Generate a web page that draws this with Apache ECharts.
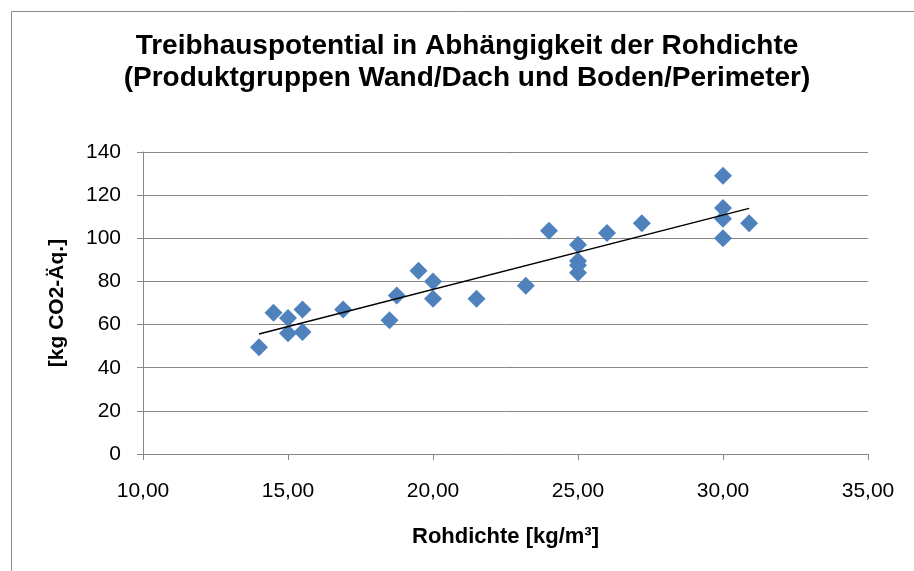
<!DOCTYPE html>
<html>
<head>
<meta charset="utf-8">
<script src="https://cdn.jsdelivr.net/npm/echarts@6/dist/echarts.min.js"></script>
<style>html,body{margin:0;padding:0;background:#fff;}#c{width:914px;height:571px;}</style>
</head>
<body>
<div id="c"></div>
<script>
var titleText = 'Treibhauspotential in Abhängigkeit der Rohdichte\n(Produktgruppen Wand/Dach und Boden/Perimeter)';
var xName = 'Rohdichte [kg/m³]';
var yName = '[kg CO2-Äq.]';
var rohdichte = [14.0, 14.5, 15.0, 15.0, 15.5, 15.5, 16.9, 18.5, 18.75, 19.5, 20.0, 20.0, 21.5, 23.2, 24.0, 25.0, 25.0, 25.0, 25.0, 26.0, 27.2, 30.0, 30.0, 30.0, 30.0, 30.9];
var gwp       = [49.5, 65.5, 63, 56, 67, 56.5, 67, 62, 73.5, 85, 80, 72, 72, 78, 103.5, 97, 89.5, 87.5, 84, 102.5, 107, 129, 114, 109, 100, 107];

var pts = rohdichte.map(function(x, i){ return [x, gwp[i]]; });
// least squares trendline
var n = pts.length, sx = 0, sy = 0, sxx = 0, sxy = 0;
pts.forEach(function(p){ sx += p[0]; sy += p[1]; sxx += p[0]*p[0]; sxy += p[0]*p[1]; });
var slope = (n*sxy - sx*sy) / (n*sxx - sx*sx);
var icpt = (sy - slope*sx) / n;
var xmin = Math.min.apply(null, rohdichte), xmax = Math.max.apply(null, rohdichte);
var trend = [[xmin, icpt + slope*xmin], [xmax, icpt + slope*xmax]];

var FF = 'Liberation Sans, Arial, sans-serif';
var chart = echarts.init(document.getElementById('c'));
chart.setOption({
  animation: false,
  backgroundColor: '#fff',
  graphic: [{
    type: 'rect', left: 9, top: 9, silent: true,
    shape: { width: 1000, height: 1000 },
    style: { fill: 'none', stroke: '#8c8c8c', lineWidth: 1 }
  }],
  title: {
    text: titleText, left: 462, top: 25, textAlign: 'center',
    textStyle: { fontFamily: FF, fontWeight: 'bold', fontSize: 28, lineHeight: 32, color: '#000' }
  },
  grid: { left: 143, right: 46, top: 152, bottom: 117 },
  xAxis: {
    type: 'value', min: 10, max: 35, interval: 5,
    name: xName, nameLocation: 'middle', nameGap: 72,
    nameTextStyle: { fontFamily: FF, fontWeight: 'bold', fontSize: 22, color: '#000' },
    axisLine: { show: true, lineStyle: { color: '#868686', width: 1 } },
    axisTick: { show: true, length: 6, lineStyle: { color: '#868686' } },
    splitLine: { show: false },
    axisLabel: { margin: 27, fontFamily: FF, fontSize: 21, color: '#000',
      formatter: function(v){ return v.toFixed(2).replace('.', ','); } }
  },
  yAxis: {
    type: 'value', min: 0, max: 140, interval: 20,
    name: yName, nameLocation: 'middle', nameGap: 75,
    nameTextStyle: { fontFamily: FF, fontWeight: 'bold', fontSize: 21, color: '#000' },
    axisLine: { show: true, lineStyle: { color: '#868686', width: 1 } },
    axisTick: { show: true, length: 6, lineStyle: { color: '#868686' } },
    splitLine: { show: true, lineStyle: { color: '#868686', width: 1 } },
    axisLabel: { margin: 22, fontFamily: FF, fontSize: 21, color: '#000' }
  },
  series: [{
    type: 'scatter', data: pts, symbol: 'diamond', symbolSize: 18,
    itemStyle: { color: '#4f81bd', opacity: 1 }, z: 3
  }, {
    type: 'line', data: trend, symbol: 'none', z: 4,
    lineStyle: { color: '#000', width: 1.5 }
  }]
});
</script>
</body>
</html>
